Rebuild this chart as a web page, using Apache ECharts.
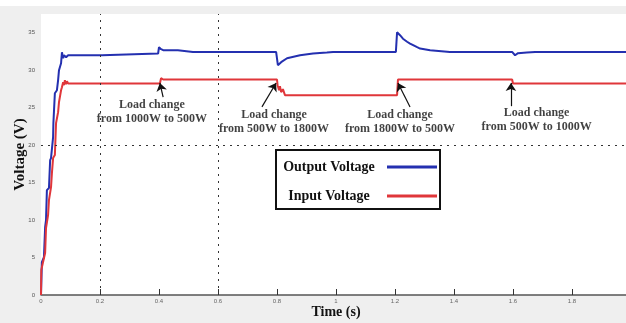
<!DOCTYPE html>
<html>
<head>
<meta charset="utf-8">
<script src="https://cdn.jsdelivr.net/npm/echarts@6/dist/echarts.min.js"></script>
<style>
  html, body { margin: 0; padding: 0; background: #ffffff; }
  #chart { width: 626px; height: 323px; }
</style>
</head>
<body>
<div id="chart"></div>
<script>
// Time axis (s) and voltage axis (V)
const timeTicks = [0, 0.2, 0.4, 0.6, 0.8, 1.0, 1.2, 1.4, 1.6, 1.8, 2.0];
const voltTicks = [0, 5, 10, 15, 20, 25, 30, 35];

// Output voltage: time (s) and value (V)
const outTime = [0, 0.003, 0.010, 0.014, 0.017, 0.020, 0.027, 0.031, 0.034, 0.041, 0.042, 0.047, 0.054, 0.058, 0.061, 0.068, 0.071, 0.075, 0.078, 0.085, 0.092,
  0.207, 0.210, 0.397, 0.400, 0.407, 0.414, 0.464, 0.515, 0.797,
  0.803, 0.814, 0.834, 0.878, 0.922, 0.969, 0.990, 1.203,
  1.207, 1.217, 1.227, 1.241, 1.251, 1.275, 1.285, 1.319, 1.386, 1.597,
  1.607, 1.617, 1.647, 1.675, 2.0];
const outVolt = [0, 4.4, 5.07, 9.07, 10.0, 14.0, 14.27, 18.0, 18.27, 21.07, 22.93, 26.93, 27.33, 28.67, 30.0, 30.93, 32.4, 31.6, 32.0, 31.73, 32.0,
  32.0, 32.23, 32.23, 33.07, 32.8, 32.67, 32.67, 32.44, 32.44,
  30.67, 31.07, 31.6, 32.0, 32.23, 32.36, 32.44, 32.44,
  35.07, 34.67, 34.2, 33.8, 33.55, 33.07, 32.89, 32.67, 32.44, 32.44,
  32.0, 32.27, 32.36, 32.44, 32.44];

// Input voltage: time (s) and value (V)
const inTime = [0, 0.001, 0.007, 0.014, 0.017, 0.024, 0.027, 0.034, 0.037, 0.041, 0.047, 0.051, 0.058, 0.061, 0.068, 0.071, 0.075, 0.078, 0.081, 0.085, 0.088, 0.092,
  0.403, 0.407, 0.414, 0.800,
  0.802, 0.807, 0.810, 0.814, 0.820, 0.827, 1.207,
  1.210, 1.597, 1.600, 2.0];
const inVolt = [0, 3.33, 4.4, 5.6, 8.93, 10.67, 12.67, 14.4, 16.27, 18.27, 18.67, 22.93, 24.4, 25.73, 27.33, 27.73, 28.4, 28.0, 28.67, 28.13, 28.53, 28.23,
  28.23, 28.93, 28.76, 28.76,
  28.0, 27.33, 27.87, 27.07, 27.47, 26.67, 26.67,
  28.76, 28.76, 28.23, 28.23];

// Load-change events
const loadNotes = [
  'Load change\nfrom 1000W to 500W',
  'Load change\nfrom 500W to 1800W',
  'Load change\nfrom 1800W to 500W',
  'Load change\nfrom 500W to 1000W'
];

// Where each note sits and where its arrow points (data coordinates)
const notePlace = [
  { text: [0.376, 24.5], from: [0.414, 26.4], to: [0.403, 28.3] },
  { text: [0.790, 23.1], from: [0.749, 25.1], to: [0.797, 28.3] },
  { text: [1.217, 23.1], from: [1.251, 25.1], to: [1.210, 28.3] },
  { text: [1.680, 23.3], from: [1.593, 25.2], to: [1.593, 28.3] }
];

const serif = '"Liberation Serif", "Times New Roman", serif';
const zip = (a, b) => a.map((v, i) => [v, b[i]]);

const chart = echarts.init(document.getElementById('chart'), null, { renderer: 'canvas' });

const dotted = { type: [2, 5], color: '#333', width: 1 };

chart.setOption({
  animation: false,
  backgroundColor: '#efefef',
  graphic: [{
    type: 'rect', left: 0, top: 0, z: -1,
    shape: { width: 626, height: 6 },
    style: { fill: '#ffffff' }
  }],
  grid: {
    left: 41, top: 14, width: 590, height: 281,
    show: true, backgroundColor: '#ffffff', borderWidth: 0,
    outerBoundsMode: 'none', containLabel: false
  },
  legend: {
    left: 276, top: 150,
    orient: 'vertical',
    align: 'right',
    icon: 'rect',
    itemWidth: 50, itemHeight: 3,
    itemGap: 15,
    padding: [10, 3, 6, 0],
    backgroundColor: '#ffffff',
    borderColor: '#111',
    borderWidth: 2,
    borderRadius: 0,
    selectedMode: false,
    formatter: '{a|{name}}',
    textStyle: {
      rich: {
        a: { width: 106, align: 'center', fontFamily: serif, fontWeight: 'bold', fontSize: 14, color: '#111', lineHeight: 17 }
      }
    },
    data: ['Output Voltage', 'Input Voltage']
  },
  xAxis: {
    type: 'value', min: timeTicks[0], max: timeTicks[timeTicks.length - 1], interval: 0.2,
    name: 'Time (s)', nameLocation: 'middle', nameGap: 10, nameMoveOverlap: false,
    nameTextStyle: { fontFamily: serif, fontWeight: 'bold', fontSize: 14, color: '#111' },
    axisLine: { show: true, lineStyle: { color: '#555', width: 1.5 } },
    axisTick: { show: true, inside: true, length: 6, lineStyle: { color: '#333', width: 1 } },
    axisLabel: { fontSize: 6, color: '#666', margin: 3, showMaxLabel: false,
      formatter: v => (timeTicks.some(t => Math.abs(t - v) < 1e-9) ? String(+v.toFixed(1)) : '') },
    splitLine: { show: false }
  },
  yAxis: {
    type: 'value', min: 0, max: 37.5, interval: 5,
    name: 'Voltage (V)', nameLocation: 'middle', nameGap: 13, nameMoveOverlap: false,
    nameTextStyle: { fontFamily: serif, fontWeight: 'bold', fontSize: 15, color: '#111' },
    axisLine: { show: false },
    axisTick: { show: false },
    axisLabel: { fontSize: 6, color: '#555', margin: 6,
      formatter: v => (voltTicks.indexOf(v) >= 0 ? String(v) : '') },
    splitLine: { show: false }
  },
  series: [
    {
      name: 'Output Voltage', type: 'line', data: zip(outTime, outVolt),
      showSymbol: false, symbol: 'none', z: 3,
      color: '#2430b0',
      lineStyle: { color: '#2430b0', width: 2 }
    },
    {
      name: 'Input Voltage', type: 'line', data: zip(inTime, inVolt),
      showSymbol: false, symbol: 'none', z: 3,
      color: '#e0363a',
      lineStyle: { color: '#e0363a', width: 2 },
      markLine: {
        silent: true, symbol: 'none', label: { show: false },
        lineStyle: dotted,
        data: [{ xAxis: timeTicks[1] }, { xAxis: timeTicks[3] }, { yAxis: voltTicks[4] }]
      }
    },
    {
      name: 'notes', type: 'scatter', symbolSize: 0, z: 5, silent: true,
      data: notePlace.map((p, i) => ({ value: p.text, note: loadNotes[i] })),
      label: {
        show: true, position: 'inside',
        formatter: p => p.data.note,
        fontFamily: serif, fontWeight: 'bold', fontSize: 12, lineHeight: 14, color: '#111', align: 'center'
      },
      markLine: {
        silent: true,
        symbol: ['none', 'arrow'], symbolSize: 8,
        label: { show: false },
        itemStyle: { color: '#111' },
        lineStyle: { type: 'solid', color: '#111', width: 1.2 },
        data: notePlace.map(p => [{ coord: p.from }, { coord: p.to }])
      }
    }
  ]
});
</script>
</body>
</html>
